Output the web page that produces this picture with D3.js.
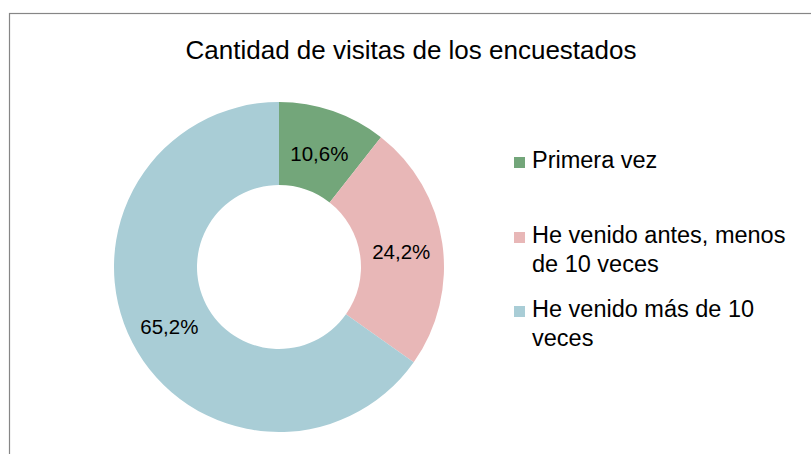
<!DOCTYPE html>
<html><head><meta charset="utf-8">
<script src="https://cdn.jsdelivr.net/npm/d3@7"></script>
<style>html,body{margin:0;padding:0;background:#fff;}svg{display:block;font-family:"Liberation Sans",Arial,sans-serif;}</style>
</head><body>
<svg id="c" width="811" height="454"></svg>
<script>
const title = "Cantidad de visitas de los encuestados";
const categories = ["Primera vez", "He venido antes, menos de 10 veces", "He venido más de 10 veces"];
const legendLines = [["Primera vez"], ["He venido antes, menos", "de 10 veces"], ["He venido más de 10", "veces"]];
const values = [10.6, 24.2, 65.2];
const colors = ["#73a67a", "#e8b7b7", "#a9cdd6"];

const svg = d3.select("#c");
svg.append("rect").attr("x", 9.5).attr("y", 13.5).attr("width", 805).attr("height", 460)
  .attr("fill", "#fff").attr("stroke", "#868686").attr("stroke-width", 1.2);

svg.append("text").attr("x", 411).attr("y", 59).attr("text-anchor", "middle")
  .attr("font-size", 26).attr("fill", "#000").text(title);

const cx = 279, cy = 267, R = 165, r = 82;
const pie = d3.pie().sort(null).value(d => d);
const arc = d3.arc().innerRadius(r).outerRadius(R);
const g = svg.append("g").attr("transform", `translate(${cx},${cy})`);
const arcs = pie(values);
g.selectAll("path").data(arcs).join("path").attr("d", arc).attr("fill", (d, i) => colors[i]);
const fmt = v => d3.format(".1f")(v).replace(".", ",") + "%";
g.selectAll("text.lab").data(arcs).join("text").attr("class", "lab")
  .attr("transform", d => { const c = arc.centroid(d); return `translate(${c[0]},${c[1]})`; })
  .attr("text-anchor", "middle").attr("dy", "0.5em").attr("font-size", 20.5).attr("fill", "#000")
  .text(d => fmt(d.data));

const legY = [168, 243, 317];
const lg = svg.append("g");
legendLines.forEach((lines, i) => {
  lg.append("rect").attr("x", 514).attr("y", legY[i] - 11).attr("width", 11).attr("height", 11).attr("fill", colors[i]);
  const t = lg.append("text").attr("x", 532).attr("y", legY[i]).attr("font-size", 23.5).attr("fill", "#000");
  lines.forEach((ln, j) => t.append("tspan").attr("x", 532).attr("y", legY[i] + j * 28.5).text(ln));
});
</script>
</body></html>
